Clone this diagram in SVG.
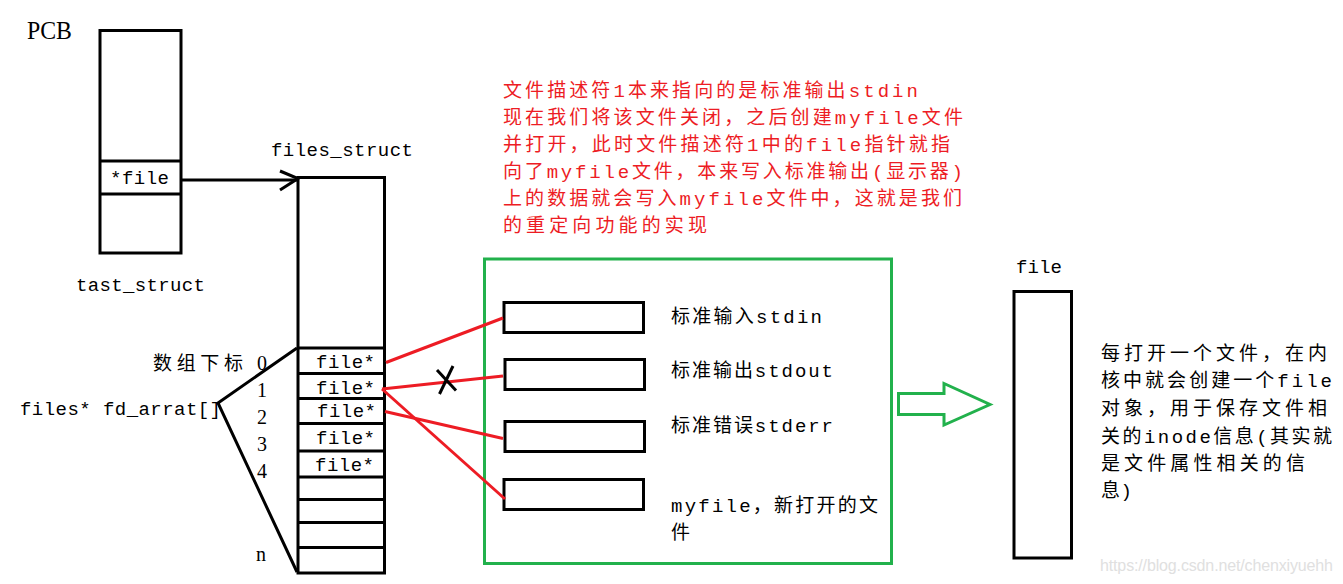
<svg xmlns="http://www.w3.org/2000/svg" width="1343" height="584" viewBox="0 0 1343 584">
<style>
.bk{fill:none;stroke:#000;stroke-width:3}
.rd{fill:none;stroke:#ed1c24;stroke-width:3}
.gn{fill:none;stroke:#22b14c;stroke-width:3}
.t{font-family:"Liberation Mono","Noto Sans CJK SC",monospace;font-size:19px;fill:#000}
.r{fill:#ed1c24}
.num{font-family:"Liberation Serif","Noto Sans CJK SC",serif;font-size:20px;fill:#000}
</style>
<rect width="1343" height="584" fill="#fff"/>

<g id="pcb">
<text x="27" y="39" font-family="Liberation Serif,serif" font-size="25" textLength="45" lengthAdjust="spacingAndGlyphs">PCB</text>
<rect class="bk" x="100" y="30.5" width="81" height="222.5"/>
<line class="bk" x1="100" y1="161" x2="181" y2="161"/>
<line class="bk" x1="100" y1="194" x2="181" y2="194"/>
<text class="t" x="110" y="184" textLength="59">*file</text>
<text class="t" x="76" y="291" textLength="129">tast_struct</text>
</g>

<g id="files_struct">
<text class="t" x="271" y="156" textLength="142">files_struct</text>
<rect class="bk" x="298" y="177.5" width="86.5" height="395.5"/>
<line class="bk" x1="298" y1="348" x2="384" y2="348"/>
<line class="bk" x1="298" y1="373.5" x2="384" y2="373.5"/>
<line class="bk" x1="298" y1="398.5" x2="384" y2="398.5"/>
<line class="bk" x1="297" y1="423.5" x2="386" y2="423.5"/>
<line class="bk" x1="298" y1="451" x2="384" y2="451"/>
<line class="bk" x1="298" y1="477" x2="384" y2="477"/>
<line class="bk" x1="298" y1="499.5" x2="386" y2="499.5"/>
<line class="bk" x1="298" y1="522.5" x2="384" y2="522.5"/>
<line class="bk" x1="298" y1="547.5" x2="384" y2="547.5"/>
<text class="t" x="316" y="368" textLength="59">file*</text>
<text class="t" x="316" y="394" textLength="59">file*</text>
<text class="t" x="317" y="417" textLength="59">file*</text>
<text class="t" x="316" y="444" textLength="59">file*</text>
<text class="t" x="315" y="471" textLength="59">file*</text>
</g>

<g id="index">
<text class="t" x="153" y="370" textLength="90">数组下标</text>
<text class="num" x="257" y="370">0</text>
<text class="num" x="257" y="397">1</text>
<text class="num" x="257" y="424">2</text>
<text class="num" x="257" y="451">3</text>
<text class="num" x="257" y="478">4</text>
<text class="num" x="256" y="561">n</text>
<text class="t" x="20" y="415" textLength="201">files* fd_arrat[]</text>
</g>

<g id="note" class="t r">
<text x="503" y="97" textLength="415">文件描述符1本来指向的是标准输出stdin</text>
<text x="503" y="124" textLength="460">现在我们将该文件关闭，之后创建myfile文件</text>
<text x="503" y="151" textLength="447">并打开，此时文件描述符1中的file指针就指</text>
<text x="503" y="178" textLength="460">向了myfile文件，本来写入标准输出(显示器)</text>
<text x="503" y="205" textLength="459">上的数据就会写入myfile文件中，这就是我们</text>
<text x="503" y="232" textLength="204">的重定向功能的实现</text>
</g>

<g id="file_table">
<rect class="gn" x="484.5" y="259" width="407" height="304.5"/>
<rect class="bk" x="504" y="302.5" width="139.5" height="30"/>
<rect class="bk" x="505" y="359.5" width="139.5" height="30"/>
<rect class="bk" x="505" y="421.5" width="139.5" height="30"/>
<rect class="bk" x="504" y="479.5" width="139.5" height="30"/>
<text class="t" x="671" y="323" textLength="151">标准输入stdin</text>
<text class="t" x="671" y="377" textLength="162">标准输出stdout</text>
<text class="t" x="671" y="432" textLength="162">标准错误stderr</text>
<text class="t" x="671" y="512" textLength="207">myfile，新打开的文</text>
<text class="t" x="671" y="539">件</text>
</g>

<g id="file_obj">
<text class="t" x="1016" y="273" textLength="46">file</text>
<rect class="bk" x="1014" y="291.5" width="57.5" height="266.5"/>
</g>

<g id="desc" class="t">
<text x="1101" y="360" textLength="226">每打开一个文件，在内</text>
<text x="1101" y="387" textLength="231">核中就会创建一个file</text>
<text x="1101" y="415" textLength="226">对象，用于保存文件相</text>
<text x="1101" y="443" textLength="231">关的inode信息(其实就</text>
<text x="1101" y="470" textLength="204">是文件属性相关的信</text>
<text x="1101" y="497" textLength="31">息)</text>
</g>

<g id="connectors">
<line class="bk" x1="182" y1="180" x2="298" y2="180"/>
<polyline class="bk" points="280,171 298,178.5 280,190"/>
<polyline class="bk" points="297,348 218,403 297,572"/>
<line class="rd" x1="386" y1="362.5" x2="503" y2="318"/>
<line class="rd" x1="382" y1="389" x2="503" y2="376"/>
<line class="rd" x1="382" y1="389" x2="505" y2="499"/>
<line class="rd" x1="385" y1="411.5" x2="503" y2="438.5"/>
<line class="bk" x1="437" y1="370" x2="456" y2="390.5"/>
<line class="bk" x1="453" y1="366" x2="439.5" y2="394"/>
<polygon class="gn" points="898.5,393.5 944,393.5 944,383.5 990,404.5 944,425 944,414.5 898.5,414.5"/>
</g>

<text x="1100" y="571" font-family="Liberation Sans,sans-serif" font-size="16" fill="#e0e0e0" textLength="233">https://blog.csdn.net/chenxiyuehh</text>
</svg>
